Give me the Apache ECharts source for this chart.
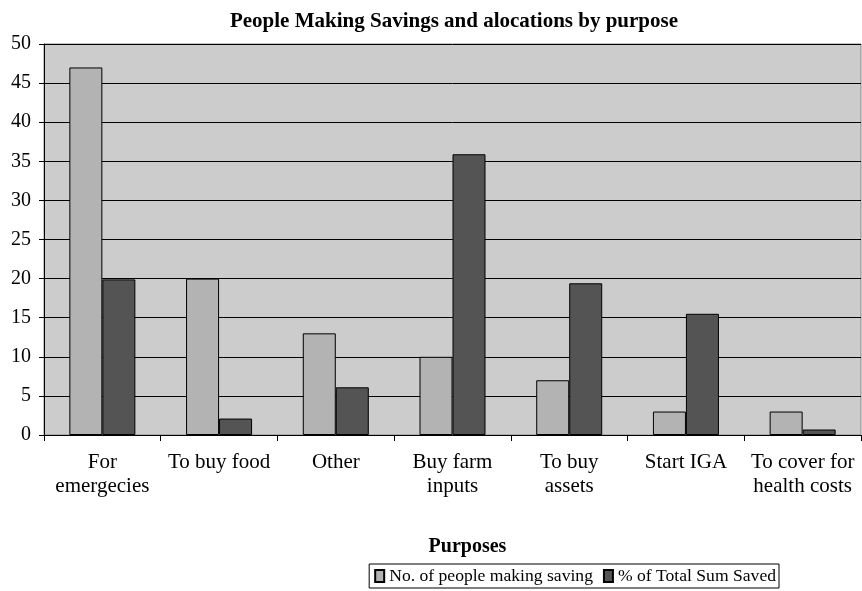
<!DOCTYPE html>
<html>
<head>
<meta charset="utf-8">
<script src="https://cdn.jsdelivr.net/npm/echarts@6/dist/echarts.min.js"></script>
<style>
    html, body { margin: 0; padding: 0; background: #fff; }
    #chart { width: 862px; height: 591px; }
</style>
</head>
<body>
<div id="chart"></div>
<script>
// categories and values
var purposes = ['For\nemergecies', 'To buy food', 'Other', 'Buy farm\ninputs', 'To buy\nassets', 'Start IGA', 'To cover for\nhealth costs'];
var peopleSaving = [47, 20, 13, 10, 7, 3, 3];
var pctTotalSaved = [19.9, 2.1, 6.1, 35.9, 19.4, 15.5, 0.7];
var yTicks = [0, 5, 10, 15, 20, 25, 30, 35, 40, 45, 50];

var font = '"Liberation Serif", "Times New Roman", serif';

var chart = echarts.init(document.getElementById('chart'));

var option = {
    animation: false,
    title: {
        text: 'People Making Savings and alocations by purpose',
        left: 449,
        textAlign: 'center',
        top: 6,
        textStyle: {
            fontFamily: font,
            fontSize: 21,
            fontWeight: 'bold',
            color: '#000'
        }
    },
    grid: {
        left: 44,
        right: 1,
        top: 44,
        bottom: 156,
        show: true,
        backgroundColor: '#cccccc',
        borderColor: '#888',
        borderWidth: 1
    },
    legend: {
        bottom: 3,
        right: 83,
        icon: 'rect',
        itemWidth: 9,
        itemHeight: 12,
        itemGap: 10,
        padding: [3, 3, 3, 5],
        borderColor: '#000',
        borderWidth: 1,
        borderRadius: 0,
        textStyle: {
            fontFamily: font,
            fontSize: 17.6,
            color: '#000'
        },
        data: ['No. of people making saving', '% of Total Sum Saved']
    },
    xAxis: {
        type: 'category',
        data: purposes,
        name: 'Purposes',
        nameLocation: 'middle',
        nameGap: 102,
        nameTextStyle: {
            fontFamily: font,
            fontSize: 20,
            fontWeight: 'bold',
            color: '#000',
            padding: [0, 0, 0, 30]
        },
        axisLine: { show: true, lineStyle: { color: '#000', width: 1 } },
        axisTick: { show: true, length: 6, lineStyle: { color: '#000' } },
        axisLabel: {
            interval: 0,
            margin: 15,
            fontFamily: font,
            fontSize: 21,
            lineHeight: 24,
            color: '#000'
        }
    },
    yAxis: {
        type: 'value',
        min: 0,
        max: 50,
        interval: 5,
        axisLine: { show: true, lineStyle: { color: '#000', width: 1 } },
        axisTick: { show: true, length: 5, lineStyle: { color: '#000' } },
        splitLine: { show: true, lineStyle: { color: '#000', width: 1 } },
        axisLabel: {
            margin: 13,
            fontFamily: font,
            fontSize: 20,
            color: '#000',
            formatter: function (v) { return yTicks.indexOf(v) >= 0 ? String(v) : ''; }
        }
    },
    series: [
        {
            name: 'No. of people making saving',
            type: 'bar',
            barWidth: 33,
            barGap: '0%',
            itemStyle: { color: '#b3b3b3', borderColor: '#000', borderWidth: 1 },
            data: peopleSaving
        },
        {
            name: '% of Total Sum Saved',
            type: 'bar',
            barWidth: 33,
            barGap: '0%',
            itemStyle: { color: '#545454', borderColor: '#000', borderWidth: 1 },
            data: pctTotalSaved
        }
    ]
};

chart.setOption(option);
</script>
</body>
</html>
